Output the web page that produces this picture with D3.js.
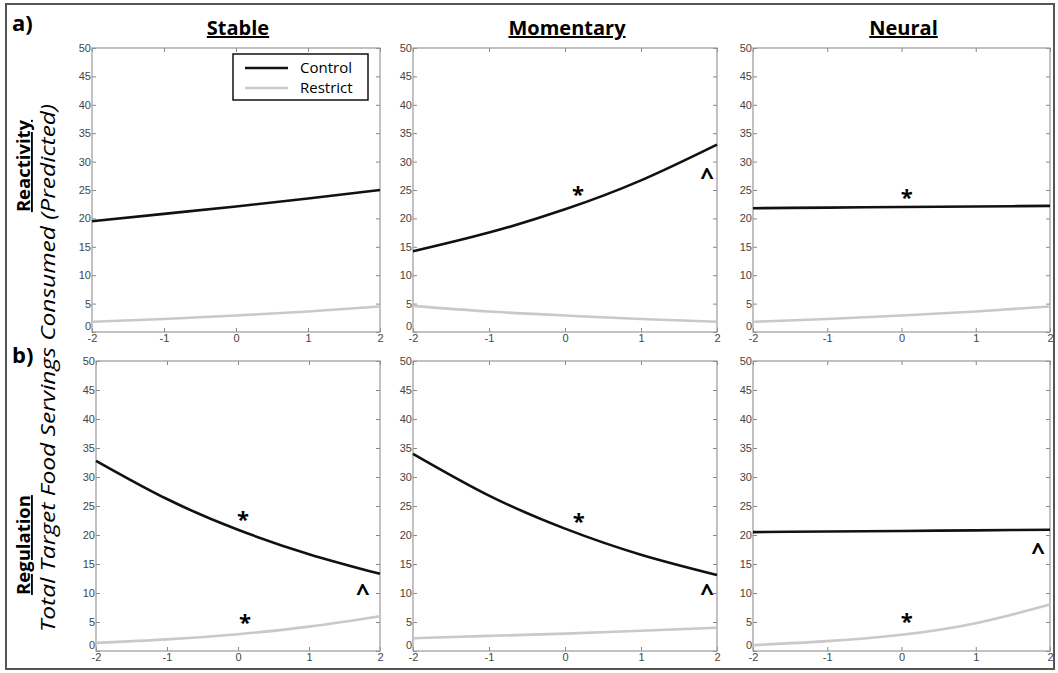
<!DOCTYPE html>
<html>
<head>
<meta charset="utf-8">
<script src="https://cdn.jsdelivr.net/npm/d3@7"></script>
<style>
  body { margin: 0; background: #fff; }
  svg { display: block; }
  .tick text { font-family: "Liberation Sans", Arial, sans-serif; font-size: 11px; fill: #444; }
  .tick line { stroke: #888; }
  .domain { display: none; }
</style>
</head>
<body>
<svg id="chart" width="1058" height="673"></svg>
<script>
// x values the predictions were read at
const xs = [-2, -1, 0, 1, 2];
const xTicks = [-2, -1, 0, 1, 2];
const yTicks = [0, 5, 10, 15, 20, 25, 30, 35, 40, 45, 50];

const colTitles = ['Stable', 'Momentary', 'Neural'];
const rowTitles = ['Reactivity', 'Regulation'];
const rowLetters = ['a)', 'b)'];
const seriesNames = ['Control', 'Restrict'];
const yTitle = 'Total Target Food Servings Consumed (Predicted)';

// reactivity row
const stableReactControl   = [19.5, 20.8, 22.1, 23.5, 25.0];
const stableReactRestrict  = [1.8, 2.3, 2.9, 3.6, 4.5];
const momentReactControl   = [14.2, 17.5, 21.6, 26.7, 33.0];
const momentReactRestrict  = [4.6, 3.6, 2.9, 2.3, 1.8];
const neuralReactControl   = [21.8, 21.9, 22.0, 22.1, 22.2];
const neuralReactRestrict  = [1.8, 2.3, 2.9, 3.6, 4.5];
// regulation row
const stableRegControl     = [32.8, 26.2, 20.9, 16.7, 13.3];
const stableRegRestrict    = [1.4, 2.0, 2.9, 4.2, 6.0];
const momentRegControl     = [34.0, 26.8, 21.1, 16.6, 13.1];
const momentRegRestrict    = [2.2, 2.6, 3.0, 3.5, 4.0];
const neuralRegControl     = [20.5, 20.6, 20.7, 20.8, 20.9];
const neuralRegRestrict    = [1.0, 1.7, 2.8, 4.8, 8.0];

// significance marks: [row, col, x, y, symbol]
const marks = [
  [0, 1, 0.17, 25.0, '*'], [0, 1, 1.87, 28.2, '^'],
  [0, 2, 0.07, 24.5, '*'],
  [1, 0, 0.07, 23.4, '*'], [1, 0, 1.76, 10.9, '^'], [1, 0, 0.10, 5.7, '*'],
  [1, 1, 0.18, 23.1, '*'], [1, 1, 1.87, 10.9, '^'],
  [1, 2, 1.84, 17.9, '^'], [1, 2, 0.07, 5.9, '*']
];

const panelData = [
  [[stableReactControl, stableReactRestrict], [momentReactControl, momentReactRestrict], [neuralReactControl, neuralReactRestrict]],
  [[stableRegControl, stableRegRestrict], [momentRegControl, momentRegRestrict], [neuralRegControl, neuralRegRestrict]]
];

// panel boxes in pixels
const rows = [{top: 48, bottom: 332}, {top: 361, bottom: 651}];
const cols = [[92, 380], [413, 717], [753, 1050]];
const colors = ['#111', '#c9c9c9'];

const svg = d3.select('#chart');

// outer frame
svg.append('rect')
  .attr('x', 6).attr('y', 4).attr('width', 1048).attr('height', 665)
  .attr('fill', 'none').attr('stroke', '#555').attr('stroke-width', 2);

const titleFont = '"Open Sans", "Noto Sans", sans-serif';

colTitles.forEach((t, c) => {
  svg.append('text')
    .attr('x', (cols[c][0] + cols[c][1]) / 2 + 2)
    .attr('y', 35)
    .attr('text-anchor', 'middle')
    .attr('font-family', titleFont)
    .attr('font-weight', 'bold')
    .attr('font-size', 20)
    .attr('text-decoration', 'underline')
    .text(t);
});

rowLetters.forEach((t, r) => {
  svg.append('text')
    .attr('x', 12)
    .attr('y', r === 0 ? 31 : 363)
    .attr('font-family', titleFont)
    .attr('font-weight', 'bold')
    .attr('font-size', 22)
    .text(t);
});

rowTitles.forEach((t, r) => {
  svg.append('text')
    .attr('transform', `translate(30, ${r === 0 ? 166 : 545}) rotate(-90)`)
    .attr('text-anchor', 'middle')
    .attr('font-family', titleFont)
    .attr('font-weight', 'bold')
    .attr('font-size', 18.5)
    .attr('text-decoration', 'underline')
    .text(t);
});

svg.append('text')
  .attr('transform', 'translate(55, 368) rotate(-90)')
  .attr('text-anchor', 'middle')
  .attr('font-family', titleFont)
  .attr('font-style', 'italic')
  .attr('font-size', 19.5)
  .attr('textLength', 528)
  .attr('lengthAdjust', 'spacingAndGlyphs')
  .text(yTitle);

rows.forEach((rw, r) => {
  cols.forEach((cl, c) => {
    const left = (r === 1 && c === 0) ? 96 : cl[0];
    const x = d3.scaleLinear().domain([-2, 2]).range([left, cl[1]]);
    const y = d3.scaleLinear().domain([0, 50]).range([rw.bottom, rw.top]);
    const g = svg.append('g');

    const yAx = g.append('g')
      .attr('transform', `translate(${left},0)`)
      .call(d3.axisLeft(y).tickValues(yTicks).tickSizeInner(-4).tickSizeOuter(0).tickPadding(1));
    // lift the zero label so it clears the -2 below it
    yAx.selectAll('.tick text').filter(d => d === 0).attr('dy', '-0.2em');

    g.append('g')
      .attr('transform', `translate(${cl[1]},0)`)
      .call(d3.axisRight(y).tickValues(yTicks).tickSizeInner(-4).tickSizeOuter(0).tickFormat(''));
    g.append('g')
      .attr('transform', `translate(0,${rw.bottom})`)
      .call(d3.axisBottom(x).tickValues(xTicks).tickFormat(d => String(d)).tickSizeInner(-4).tickSizeOuter(0).tickPadding(2));
    g.append('g')
      .attr('transform', `translate(0,${rw.top})`)
      .call(d3.axisTop(x).tickValues(xTicks).tickSizeInner(-4).tickSizeOuter(0).tickFormat(''));

    g.selectAll('.tick line').attr('stroke', '#888');

    g.append('rect')
      .attr('x', left).attr('y', rw.top)
      .attr('width', cl[1] - left).attr('height', rw.bottom - rw.top)
      .attr('fill', 'none').attr('stroke', '#999').attr('stroke-width', 1.2);

    const line = d3.line()
      .x((d, i) => x(xs[i]))
      .y(d => y(d))
      .curve(d3.curveNatural);

    // restrict first so control sits on top
    [1, 0].forEach(s => {
      g.append('path')
        .datum(panelData[r][c][s])
        .attr('d', line)
        .attr('fill', 'none')
        .attr('stroke', colors[s])
        .attr('stroke-width', 2.6);
    });

    marks.filter(m => m[0] === r && m[1] === c).forEach(m => {
      const isStar = m[4] === '*';
      g.append('text')
        .attr('x', x(m[2]))
        .attr('y', y(m[3]) + (isStar ? 12 : 13))
        .attr('text-anchor', 'middle')
        .attr('font-family', titleFont)
        .attr('font-weight', 'bold')
        .attr('font-size', isStar ? 22 : 24)
        .text(m[4]);
    });

    if (r === 0 && c === 0) {
      const lg = g.append('g');
      lg.append('rect')
        .attr('x', 233).attr('y', 54).attr('width', 135).attr('height', 46)
        .attr('fill', '#fff').attr('stroke', '#111').attr('stroke-width', 1.5);
      seriesNames.forEach((n, i) => {
        lg.append('line')
          .attr('x1', 245).attr('x2', 288)
          .attr('y1', 68 + i * 20).attr('y2', 68 + i * 20)
          .attr('stroke', colors[i]).attr('stroke-width', 2.6);
        lg.append('text')
          .attr('x', 300).attr('y', 73 + i * 20)
          .attr('font-family', titleFont)
          .attr('font-size', 15)
          .text(n);
      });
    }
  });
});
</script>
</body>
</html>
